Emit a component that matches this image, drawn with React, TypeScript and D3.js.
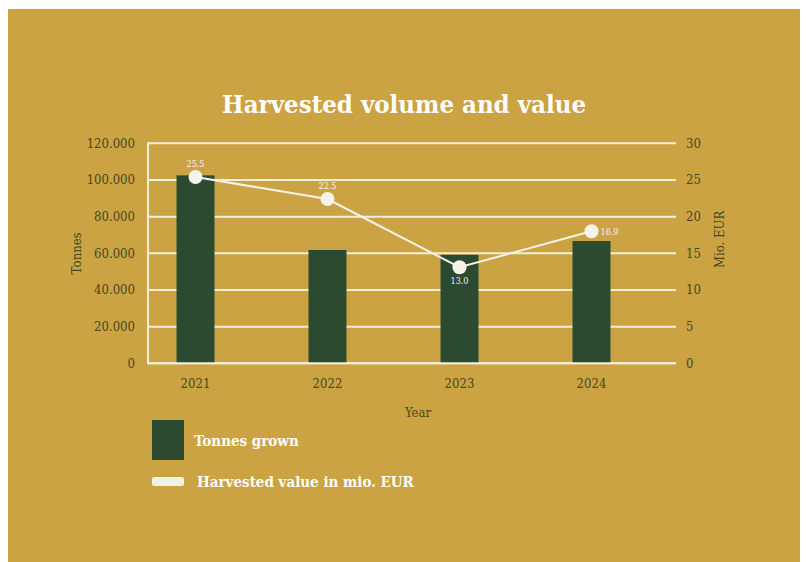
import React from "react";
import * as d3 from "d3";

const years = ["2021", "2022", "2023", "2024"];
const tonnes = [102500, 61800, 59200, 66700];
const valueMio = [25.4, 22.4, 13.1, 18.0];
const valueLabels = ["25.5", "22.5", "13.0", "16.9"];
const leftTicks = [0, 20000, 40000, 60000, 80000, 100000, 120000];
const rightTicks = [0, 5, 10, 15, 20, 25, 30];
const labelPos = ["top", "top", "bottom", "right"];

const GOLD = "#CCA343";
const GREEN = "#2C4A2F";
const TEXT = "#43481E";
const GRID = "#F3EEDC";
const FONT = "'DejaVu Serif Condensed', 'DejaVu Serif', serif";

export default function App() {
  const left = 148, right = 676, top = 143.3, bottom = 363.3;
  const yL = d3.scaleLinear().domain([0, 120000]).range([bottom, top]);
  const yR = d3.scaleLinear().domain([0, 30]).range([bottom, top]);
  const x = d3.scalePoint<string>().domain(years).range([195.5, 591.5]);
  const barW = 38;
  const fmt = (v: number) => (v === 0 ? "0" : d3.format(",")(v).replace(/,/g, "."));
  const line = d3
    .line<number>()
    .x((_, i) => x(years[i]) as number)
    .y((d) => yR(d));

  return (
    <svg width={806} height={562} style={{ position: "absolute", left: 0, top: 0 }}>
      <rect x={0} y={0} width={806} height={562} fill="#ffffff" />
      <rect x={8} y={9} width={792} height={560} fill={GOLD} />
      <text
        x={404}
        y={113}
        textAnchor="middle"
        fontFamily={FONT}
        fontWeight="bold"
        fontSize={25}
        fill="#ffffff"
        textLength={364}
        lengthAdjust="spacingAndGlyphs"
      >
        Harvested volume and value
      </text>
      {leftTicks.map((t) => (
        <g key={t}>
          <line x1={left} x2={right} y1={yL(t)} y2={yL(t)} stroke={GRID} strokeWidth={2} />
          <text x={135} y={yL(t) + 4.5} textAnchor="end" fontFamily={FONT} fontSize={13} fill={TEXT}>
            {fmt(t)}
          </text>
        </g>
      ))}
      {rightTicks.map((t) => (
        <text key={t} x={686} y={yR(t) + 4.5} fontFamily={FONT} fontSize={13} fill={TEXT}>
          {t}
        </text>
      ))}
      <line x1={left} x2={left} y1={top - 1} y2={bottom + 1} stroke={GRID} strokeWidth={2} />
      {years.map((yr, i) => (
        <rect
          key={yr}
          x={(x(yr) as number) - barW / 2}
          y={yL(tonnes[i])}
          width={barW}
          height={bottom - yL(tonnes[i])}
          fill={GREEN}
        />
      ))}
      <line x1={left} x2={right} y1={bottom} y2={bottom} stroke={GRID} strokeWidth={2} />
      <path d={line(valueMio) || ""} fill="none" stroke="#F6F3EA" strokeWidth={2} />
      {valueMio.map((v, i) => {
        const cx = x(years[i]) as number;
        const cy = yR(v);
        const pos = labelPos[i];
        const lx = pos === "right" ? cx + 9 : cx;
        const ly = pos === "top" ? cy - 10 : pos === "bottom" ? cy + 17 : cy + 3.5;
        return (
          <g key={i}>
            <circle cx={cx} cy={cy} r={7} fill="#F6F3EA" />
            <text
              x={lx}
              y={ly}
              textAnchor={pos === "right" ? "start" : "middle"}
              fontFamily={FONT}
              fontSize={9}
              fill="#F6F3EA"
            >
              {valueLabels[i]}
            </text>
          </g>
        );
      })}
      {years.map((yr) => (
        <text key={yr} x={x(yr) as number} y={388} textAnchor="middle" fontFamily={FONT} fontSize={13} fill={TEXT}>
          {yr}
        </text>
      ))}
      <text x={418} y={417} textAnchor="middle" fontFamily={FONT} fontSize={13} fill={TEXT}>
        Year
      </text>
      <text
        transform={`translate(81,${(top + bottom) / 2}) rotate(-90)`}
        textAnchor="middle"
        fontFamily={FONT}
        fontSize={13}
        fill={TEXT}
      >
        Tonnes
      </text>
      <text
        transform={`translate(724,${(top + bottom) / 2 - 14}) rotate(-90)`}
        textAnchor="middle"
        fontFamily={FONT}
        fontSize={13}
        fill={TEXT}
      >
        Mio. EUR
      </text>
      <rect x={152} y={420} width={32} height={40} fill={GREEN} />
      <text x={194} y={446} fontFamily={FONT} fontWeight="bold" fontSize={15} fill="#ffffff">
        Tonnes grown
      </text>
      <rect x={152} y={477} width={32} height={9} rx={2} fill="#F3F0EA" />
      <text x={197} y={487} fontFamily={FONT} fontWeight="bold" fontSize={15} fill="#ffffff">
        Harvested value in mio. EUR
      </text>
    </svg>
  );
}
